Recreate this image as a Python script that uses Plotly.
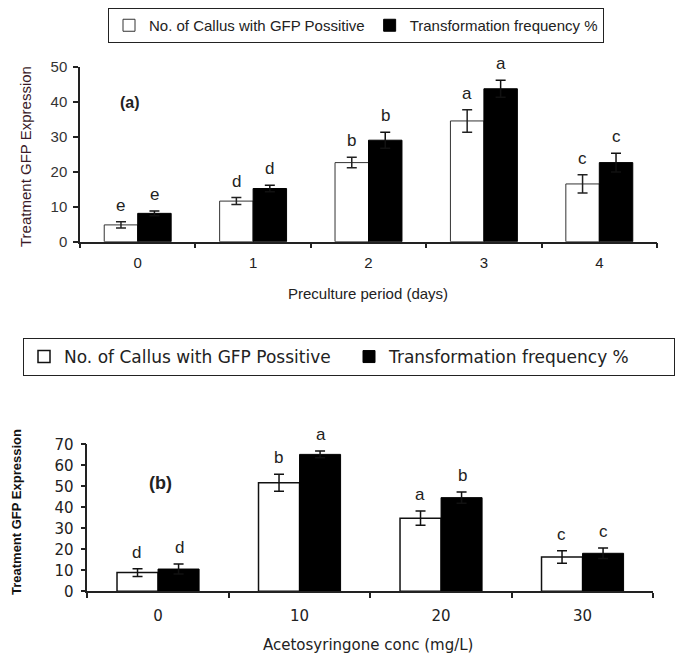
import plotly.graph_objects as go

# ---- Data: panel (a) ----
days = ["0", "1", "2", "3", "4"]
callus_a = [4.8, 11.6, 22.6, 34.5, 16.5]
callus_a_err = [0.9, 1.0, 1.5, 3.2, 2.6]
freq_a = [8.1, 15.2, 29.0, 43.7, 22.6]
freq_a_err = [0.7, 0.9, 2.3, 2.4, 2.7]
letters_callus_a = ["e", "d", "b", "a", "c"]
letters_freq_a = ["e", "d", "b", "a", "c"]

# ---- Data: panel (b) ----
conc = ["0", "10", "20", "30"]
callus_b = [8.9, 51.7, 34.8, 16.3]
callus_b_err = [1.8, 4.0, 3.4, 3.0]
freq_b = [10.6, 65.2, 44.6, 18.1]
freq_b_err = [2.4, 1.6, 2.7, 2.5]
letters_callus_b = ["d", "b", "a", "c"]
letters_freq_b = ["d", "a", "b", "c"]

name1 = "No. of Callus with GFP Possitive"
name2 = "Transformation frequency %"

W, H = 675, 657
ARIAL = "Arial, Liberation Sans, sans-serif"
WIDE = "DejaVu Sans, Verdana, sans-serif"

fig = go.Figure()

def err(vals, color):
    return dict(type="data", array=vals, visible=True, color=color, thickness=1.5, width=5)

fig.add_trace(go.Bar(x=days, y=callus_a, name=name1, error_y=err(callus_a_err, "#222"),
                     marker=dict(color="white", line=dict(color="#333", width=1)),
                     xaxis="x", yaxis="y", legend="legend"))
fig.add_trace(go.Bar(x=days, y=freq_a, name=name2, error_y=err(freq_a_err, "#111"),
                     marker=dict(color="black", line=dict(color="black", width=1)),
                     xaxis="x", yaxis="y", legend="legend"))
fig.add_trace(go.Bar(x=conc, y=callus_b, name=name1, error_y=err(callus_b_err, "#111"),
                     marker=dict(color="white", line=dict(color="#111", width=1.5)),
                     xaxis="x2", yaxis="y2", legend="legend2"))
fig.add_trace(go.Bar(x=conc, y=freq_b, name=name2, error_y=err(freq_b_err, "#111"),
                     marker=dict(color="black", line=dict(color="black", width=1)),
                     xaxis="x2", yaxis="y2", legend="legend2"))

annotations = []
gap_a, gap_b = 0.42, 0.40
off_a = (1 - gap_a) / 4
off_b = (1 - gap_b) / 4
for i in range(len(days)):
    annotations.append(dict(x=i - off_a, y=callus_a[i] + callus_a_err[i], xref="x", yref="y",
                            text=letters_callus_a[i], showarrow=False, yanchor="bottom", yshift=5,
                            font=dict(family=ARIAL, size=17, color="#222")))
    annotations.append(dict(x=i + off_a, y=freq_a[i] + freq_a_err[i], xref="x", yref="y",
                            text=letters_freq_a[i], showarrow=False, yanchor="bottom", yshift=5,
                            font=dict(family=ARIAL, size=17, color="#222")))
for i in range(len(conc)):
    annotations.append(dict(x=i - off_b, y=callus_b[i] + callus_b_err[i], xref="x2", yref="y2",
                            text=letters_callus_b[i], showarrow=False, yanchor="bottom", yshift=5,
                            font=dict(family=ARIAL, size=17, color="#222")))
    annotations.append(dict(x=i + off_b, y=freq_b[i] + freq_b_err[i], xref="x2", yref="y2",
                            text=letters_freq_b[i], showarrow=False, yanchor="bottom", yshift=5,
                            font=dict(family=ARIAL, size=17, color="#222")))

def paper_text(px, py, text, font, angle=0):
    return dict(x=px / W, y=1 - py / H, xref="paper", yref="paper", text=text,
                showarrow=False, xanchor="center", yanchor="middle", textangle=angle, font=font)

# panel labels and axis titles
annotations += [
    paper_text(130, 103, "<b>(a)</b>", dict(family=ARIAL, size=16, color="#222")),
    paper_text(160, 483, "<b>(b)</b>", dict(family=ARIAL, size=18, color="#222")),
    paper_text(368, 293, "Preculture period (days)", dict(family=ARIAL, size=15, color="#222")),
    paper_text(368, 645, "Acetosyringone conc (mg/L)", dict(family=WIDE, size=15, color="#222")),
    paper_text(25, 157, "Treatment GFP Expression", dict(family=ARIAL, size=15, color="#3a1a28"), -90),
    paper_text(16, 512, "<b>Treatment GFP Expression</b>", dict(family=ARIAL, size=13, color="#111"), -90),
]

axis_common = dict(showline=True, linecolor="#222", linewidth=1.5, ticks="outside",
                   tickcolor="#222", ticklen=5, tickwidth=1.5, showgrid=False, zeroline=False)

fig.update_layout(
    width=W, height=H,
    margin=dict(l=0, r=0, t=0, b=0, autoexpand=False),
    paper_bgcolor="white", plot_bgcolor="white",
    barmode="group",
    bargap=gap_a, bargroupgap=0,
    xaxis=dict(domain=[80 / W, 657 / W], anchor="y", type="category", tickson="boundaries",
               ticklabelstandoff=7,
               tickfont=dict(family=ARIAL, size=15, color="#222"), **axis_common),
    yaxis=dict(domain=[1 - 241.7 / H, 1 - 66.7 / H], anchor="x", range=[0, 50], dtick=10,
               ticklabelstandoff=3,
               tickfont=dict(family=ARIAL, size=15, color="#333"), **axis_common),
    xaxis2=dict(domain=[87.3 / W, 653.3 / W], anchor="y2", type="category", tickson="boundaries",
                ticklabelstandoff=10,
                tickfont=dict(family=WIDE, size=15, color="#222"), **axis_common),
    yaxis2=dict(domain=[1 - 591.3 / H, 1 - 444.3 / H], anchor="x2", range=[0, 70], dtick=10,
                ticklabelstandoff=4,
                tickfont=dict(family=WIDE, size=15, color="#222"), **axis_common),
    legend=dict(orientation="h", x=108 / W, y=1 - 8 / H, xanchor="left", yanchor="top",
                bordercolor="#222", borderwidth=1, bgcolor="white",
                font=dict(family=ARIAL, size=15, color="#222"), traceorder="normal"),
    legend2=dict(orientation="h", x=23 / W, y=1 - 338 / H, xanchor="left", yanchor="top",
                 bordercolor="#222", borderwidth=1, bgcolor="white", entrywidth=280,
                 font=dict(family=WIDE, size=17, color="#222"), traceorder="normal"),
    annotations=annotations,
    showlegend=True,
)

fig.write_html("out.html", config={"displayModeBar": False},
               post_script="document.body.style.margin='0';")
